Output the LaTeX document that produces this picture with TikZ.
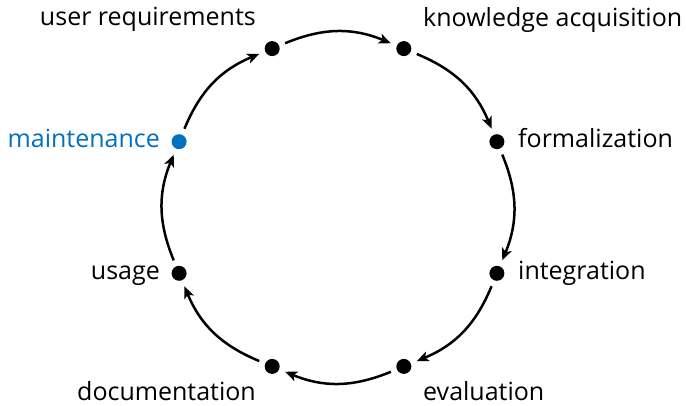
\documentclass[tikz,border=0pt]{standalone}
\usepackage{fontspec}
\setmainfont{Open Sans}
\usetikzlibrary{arrows.meta}
\definecolor{accent}{RGB}{0,112,192}
\tikzset{
  dot/.style={circle, fill=black, inner sep=0pt, minimum size=15pt, outer sep=6.5pt},
  lbl/.style={inner sep=0pt, font=\fontsize{25}{30}\selectfont},
  flow/.style={line width=2.5pt, -{Stealth[length=12pt, width=10pt, inset=3pt]}},
}
\begin{document}
\begin{tikzpicture}[x=1pt, y=1pt]
  \useasboundingbox (0,0) rectangle (686,405);
  % cycle stages placed on a circle
  \begin{scope}[shift={(338,197.5)}]
    \node[dot] (ur) at (112.5:172) {};
    \node[dot] (ka) at (67.5:172) {};
    \node[dot] (fo) at (22.5:172) {};
    \node[dot] (in) at (-22.5:172) {};
    \node[dot] (ev) at (-67.5:172) {};
    \node[dot] (do) at (-112.5:172) {};
    \node[dot] (us) at (-157.5:172) {};
    \node[dot, fill=accent] (ma) at (157.5:172) {};
  \end{scope}
  % stage labels
  \node[lbl, anchor=base east] (lur) at (256,379) {user requirements};
  \node[lbl, anchor=base west] (lka) at (423,378) {knowledge acquisition};
  \node[lbl, anchor=base west] (lfo) at (518,257) {formalization};
  \node[lbl, anchor=base west] (lin) at (518,125) {integration};
  \node[lbl, anchor=base west] (lev) at (423,5) {evaluation};
  \node[lbl, anchor=base east] (ldo) at (256,5) {documentation};
  \node[lbl, anchor=base east] (lus) at (160,126) {usage};
  \node[lbl, anchor=base east, text=accent] (lma) at (160,257) {maintenance};
  % clockwise flow between stages
  \draw[flow] (ur) to[bend left=22.5] (ka);
  \draw[flow] (ka) to[bend left=22.5] (fo);
  \draw[flow] (fo) to[bend left=22.5] (in);
  \draw[flow] (in) to[bend left=22.5] (ev);
  \draw[flow] (ev) to[bend left=22.5] (do);
  \draw[flow] (do) to[bend left=22.5] (us);
  \draw[flow] (us) to[bend left=22.5] (ma);
  \draw[flow] (ma) to[bend left=22.5] (ur);
\end{tikzpicture}
\end{document}
